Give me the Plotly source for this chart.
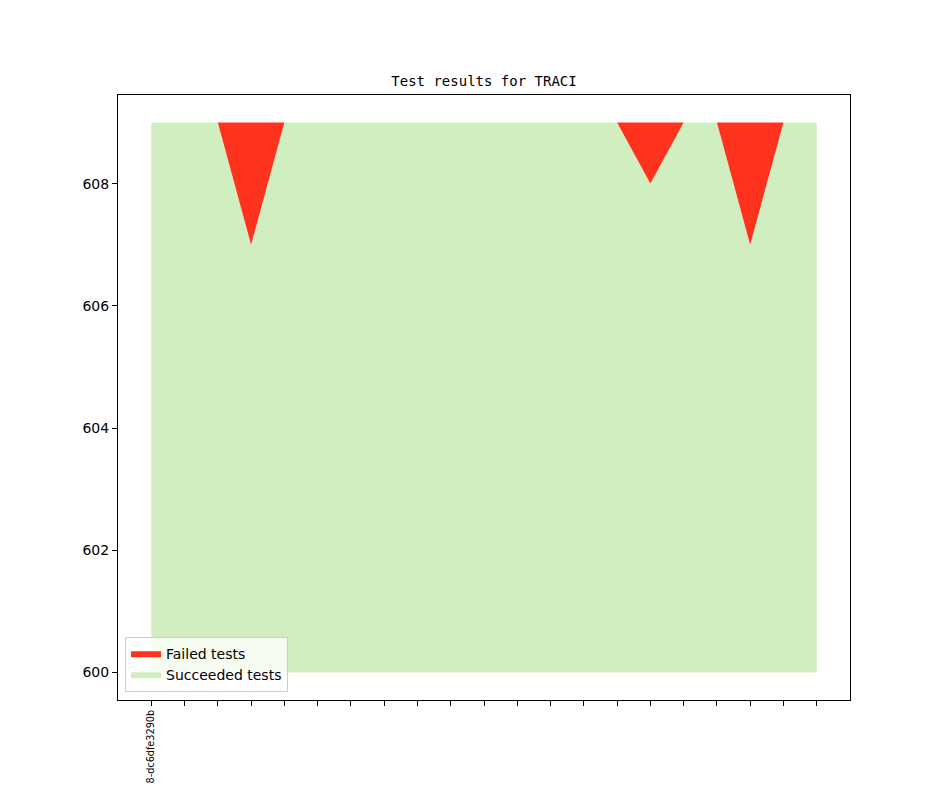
import plotly.graph_objects as go

# commit index along the x axis, only the first commit carries a label
commits = list(range(21))
commit_labels = ["8-dc6dfe3290b"] + [""] * 20

succeeded = [609, 609, 609, 607, 609, 609, 609, 609, 609, 609, 609,
             609, 609, 609, 609, 608, 609, 609, 607, 609, 609]
failed = [0, 0, 0, 2, 0, 0, 0, 0, 0, 0, 0,
          0, 0, 0, 0, 1, 0, 0, 2, 0, 0]
baseline = 600

total = [s + f for s, f in zip(succeeded, failed)]

fig = go.Figure()

# invisible baseline so the green area starts at 600
fig.add_trace(go.Scatter(
    x=commits, y=[baseline] * len(commits), mode="lines",
    line=dict(width=0), showlegend=False, hoverinfo="skip",
))
fig.add_trace(go.Scatter(
    x=commits, y=succeeded, name="Succeeded tests",
    mode="lines", line=dict(width=0), fill="tonexty",
    fillcolor="#d0eebf",
))
fig.add_trace(go.Scatter(
    x=commits, y=total, name="Failed tests",
    mode="lines", line=dict(width=0), fill="tonexty",
    fillcolor="#ff321e", customdata=failed,
    hovertemplate="%{customdata}<extra>Failed tests</extra>",
))

axis_style = dict(
    showline=True, linecolor="black", linewidth=1, mirror=True,
    ticks="outside", ticklen=5, tickcolor="black",
    showgrid=False, zeroline=False,
)

# the page body adds an 8px offset, margins compensate for it
fig.update_layout(
    width=944, height=787,
    margin=dict(l=110, r=102, t=87, b=95),
    paper_bgcolor="white", plot_bgcolor="white",
    font=dict(family="DejaVu Sans", size=14, color="black"),
    title=dict(
        text="Test results for TRACI",
        font=dict(family="DejaVu Sans Mono", size=14, color="black"),
        x=0.5, xref="paper", xanchor="center",
        y=0.907, yref="container", yanchor="middle",
    ),
    xaxis=dict(
        range=[-1, 21], tickmode="array", tickvals=commits,
        ticktext=commit_labels, tickangle=-90,
        tickfont=dict(size=9.7), **axis_style,
    ),
    yaxis=dict(
        range=[599.55, 609.45], tickmode="array",
        tickvals=[600, 602, 604, 606, 608], **axis_style,
    ),
    legend=dict(
        x=0.0096, y=0.014, xanchor="left", yanchor="bottom",
        traceorder="reversed", tracegroupgap=0,
        bgcolor="rgba(255,255,255,0.8)", bordercolor="#cccccc", borderwidth=1,
        font=dict(size=14),
    ),
    showlegend=True,
)

fig.write_html("out.html")
